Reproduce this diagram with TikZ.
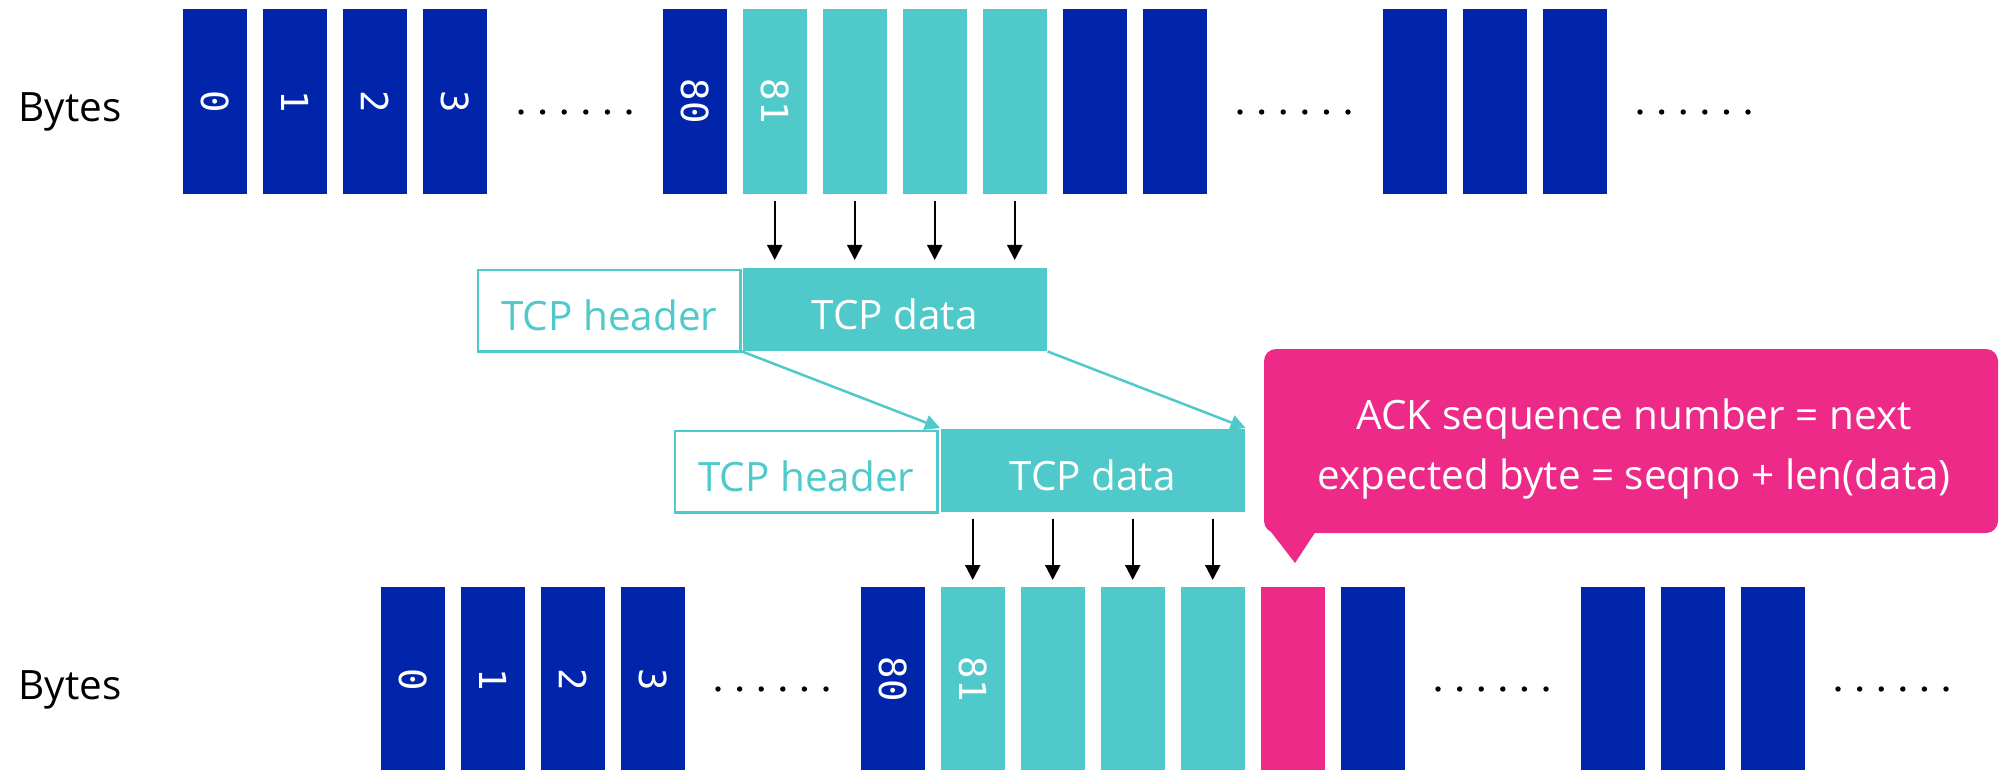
\documentclass[tikz,border=0pt]{standalone}
\usepackage{fontspec}
\setmainfont{Open Sans}
\newfontfamily\digitfont{DejaVu Sans Mono}
\usetikzlibrary{arrows.meta}
\definecolor{bytenavy}{RGB}{0,37,171}
\definecolor{segteal}{RGB}{79,201,201}
\definecolor{ackpink}{RGB}{238,42,137}

\begin{document}
\begin{tikzpicture}[x=0.01cm, y=-0.01cm,
  cell/.style={rectangle, inner sep=0pt, minimum width=0.64cm, minimum height=1.85cm,
    anchor=north west, text=white, font=\digitfont\fontsize{10.6}{12}\selectfont},
  oldbyte/.style={cell, fill=bytenavy},
  newbyte/.style={cell, fill=segteal},
  nextbyte/.style={cell, fill=ackpink},
  rowlabel/.style={anchor=base west, inner sep=0pt, font=\fontsize{11.5}{14}\selectfont},
  segfont/.style={font=\fontsize{11.5}{14}\selectfont, text height=0.4cm, text depth=0pt},
  hdrbox/.style={rectangle, draw=segteal, line width=0.7pt, fill=white, text=segteal,
    inner sep=0pt, minimum width=2.62cm, minimum height=0.81cm, anchor=north west, segfont},
  databox/.style={rectangle, fill=segteal, text=white, inner sep=0pt,
    minimum width=3.04cm, minimum height=0.83cm, anchor=north west, segfont},
  feed/.style={-{Triangle[length=0.15cm,width=0.15cm]}, line width=0.02cm, black},
  carry/.style={-{Triangle[length=0.15cm,width=0.15cm]}, line width=0.025cm, segteal},
  acktext/.style={anchor=base, inner sep=0pt, text=white, font=\fontsize{11.5}{17.07}\selectfont},
]
\useasboundingbox (0,0) rectangle (2000,769);

% ---- sender byte stream ----
\node[rowlabel] (lbltop) at (18,121) {Bytes};
\foreach \k in {0,...,3}
  \node[oldbyte] (t\k) at (182+80*\k,8) {\rotatebox{-90}{\k}};
\node[oldbyte] (t6) at (662,8) {\rotatebox{-90}{80}};
\node[newbyte] (t7) at (742,8) {\rotatebox{-90}{81}};
\foreach \k in {8,9,10}
  \node[newbyte] (t\k) at (182+80*\k,8) {};
\foreach \k in {11,12,15,16,17}
  \node[oldbyte] (t\k) at (182+80*\k,8) {};

% ---- receiver byte stream ----
\node[rowlabel] (lblbot) at (18,699) {Bytes};
\foreach \k in {0,...,3}
  \node[oldbyte] (b\k) at (380+80*\k,586) {\rotatebox{-90}{\k}};
\node[oldbyte] (b6) at (860,586) {\rotatebox{-90}{80}};
\node[newbyte] (b7) at (940,586) {\rotatebox{-90}{81}};
\foreach \k in {8,9,10}
  \node[newbyte] (b\k) at (380+80*\k,586) {};
\node[nextbyte] (b11) at (1260,586) {};
\foreach \k in {12,15,16,17}
  \node[oldbyte] (b\k) at (380+80*\k,586) {};

% ---- ellipses between byte groups ----
\foreach \cx/\cy in {575/112, 1294/112, 1694/112, 772/689, 1492/689, 1892/689}
  \foreach \i in {0,...,5}
    \fill (\cx-54+21.6*\i,\cy) circle (0.027cm);

% ---- segment as sent ----
\node[hdrbox] (h1) at (477,269) {TCP header};
\node[databox] (d1) at (742,267) {TCP data};
\foreach \k in {7,...,10}
  \draw[feed, shorten <=0.06cm, shorten >=0.07cm] (t\k.south) -- (t\k.south |- d1.north);

% ---- segment as received ----
\node[hdrbox] (h2) at (674,430) {TCP header};
\node[databox] (d2) at (940,428) {TCP data};
\draw[carry] (d1.south west) -- (d2.north west);
\draw[carry] (d1.south east) -- (d2.north east);
\foreach \k in {7,...,10}
  \draw[feed, shorten <=0.07cm, shorten >=0.06cm] (b\k.north |- d2.south) -- (b\k.north);

% ---- acknowledgement callout ----
\fill[ackpink, rounded corners=0.12cm] (1264,349) rectangle (1998,533);
\fill[ackpink] (1268,528) -- (1295,563) -- (1318,528) -- cycle;
\node[acktext] (ack) at (1634,429)
  {\begin{tabular}[t]{@{}c@{}}ACK sequence number = next\\expected byte = seqno + len(data)\end{tabular}};
\end{tikzpicture}
\end{document}
